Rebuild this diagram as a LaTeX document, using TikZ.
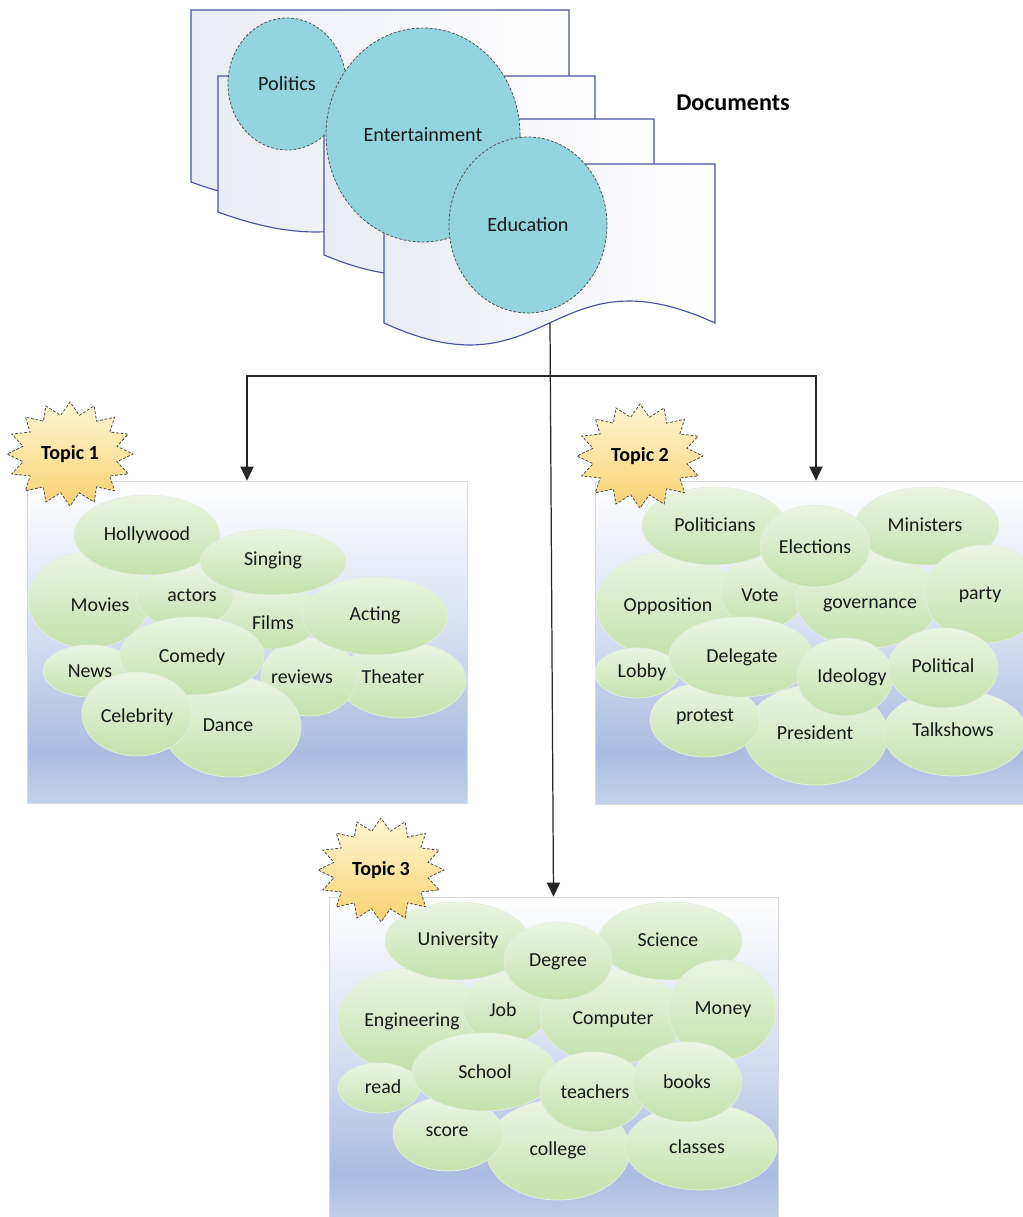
\documentclass[tikz,border=0pt]{standalone}
\usepackage{fontspec}
\setmainfont{Carlito}
\usetikzlibrary{arrows.meta,shapes.geometric}

\definecolor{docedge}{RGB}{72,84,160}
\definecolor{docleft}{RGB}{234,236,245}
\definecolor{circfill}{RGB}{146,212,223}
\definecolor{blobtop}{RGB}{236,245,228}
\definecolor{blobbot}{RGB}{196,226,172}
\definecolor{blobedge}{RGB}{230,238,224}
\definecolor{bgA}{RGB}{198,210,236}
\definecolor{bgB}{RGB}{170,188,224}
\definecolor{bgC}{RGB}{212,220,240}
\definecolor{burstTop}{RGB}{255,246,212}
\definecolor{burstBot}{RGB}{247,210,112}

% vertical background of the topic panels (bottom -> top)
\pgfdeclareverticalshading{topicbg}{100bp}{color(0bp)=(bgA); color(25bp)=(bgA); color(33bp)=(bgB); color(50bp)=(bgC); color(75bp)=(white); color(100bp)=(white)}

\tikzset{
  docpage/.style={draw=docedge, line width=0.65pt, left color=docleft, right color=white},
  topicbox/.style={rectangle, draw=gray!30, line width=0.4pt, shading=topicbg, inner sep=0pt},
  bubble/.style={ellipse, draw=gray!65!black, dash pattern=on 1.6pt off 1pt, line width=0.45pt,
    fill=circfill, inner sep=0pt, text=black!90, font=\fontsize{11.5}{13}\selectfont},
  blob/.style={ellipse, draw=blobedge, line width=0.4pt, top color=blobtop, bottom color=blobbot, inner sep=0pt},
  word/.style={inner sep=0pt, text=black!90, font=\fontsize{11.3}{13}\selectfont},
  burst/.style={draw=gray!60!black, dash pattern=on 1.6pt off 1pt, line width=0.45pt,
    top color=burstTop, bottom color=burstBot},
  topiclabel/.style={inner sep=0pt, text=black, font=\bfseries\fontsize{11.4}{13}\selectfont},
  flow/.style={draw=black!85, line width=0.7pt},
  arrowed/.style={flow, -{Triangle[width=7.5pt,length=8pt]}},
}

% a stacked document sheet: left, top, right, bottom, wave amplitude
\newcommand\docsheet[5]{%
  \draw[docpage] (#1,#4) -- (#1,#2) -- (#3,#2) -- (#3,#4)
    .. controls ({(#1+#3)/2},{#4-3.46*#5}) and ({(#1+#3)/2},{#4+3.46*#5}) .. (#1,#4) -- cycle;}

% a word bubble: name, cx, cy, rx, ry, text x, text y, text
\newcommand\wordblob[8]{%
  \node[blob, minimum width={2*#4*0.02cm}, minimum height={2*#5*0.02cm}] (#1) at (#2,#3) {};
  \node[word] (#1-t) at (#6,#7) {#8};}

% a starburst badge: name, cx, cy, label
\newcommand\topicburst[4]{%
  \draw[burst] plot[variable=\k, samples at={0,...,31}]
    ({#2+63*(1-0.24*mod(\k,2))*cos(\k*11.25+90)}, {#3+52*(1-0.24*mod(\k,2))*sin(\k*11.25+90)}) -- cycle;
  \node[topiclabel] (#1) at (#2,#3) {#4};}

\begin{document}
\begin{tikzpicture}[x=0.02cm, y=-0.02cm]
\useasboundingbox (0,0) rectangle (1023,1217);
\clip (0,0) rectangle (1023,1217);
\fill[white] (0,0) rectangle (1023,1217);

% ---- document stack ----
\docsheet{191}{10}{569}{182}{20}
\docsheet{218}{76}{595}{212}{20}
\docsheet{324}{119}{654}{255}{20}
\docsheet{384}{164}{715}{323}{22}

\node[bubble, minimum width={2*59*0.02cm}, minimum height={2*66*0.02cm}] (politics) at (287,84) {Politics};
\node[bubble, minimum width={2*97*0.02cm}, minimum height={2*107*0.02cm}] (entertain) at (423,135) {Entertainment};
\node[bubble, minimum width={2*79*0.02cm}, minimum height={2*88*0.02cm}] (education) at (528,225) {Education};

\node[inner sep=0pt, text=black, font=\bfseries\fontsize{13.7}{16}\selectfont] (docs) at (733,103) {Documents};

% ---- topic panels ----
\node[topicbox, minimum width={440*0.02cm}, minimum height={322*0.02cm}] (t1box) at (247,642) {};
\node[topicbox, minimum width={442*0.02cm}, minimum height={323*0.02cm}] (t2box) at (816,642.5) {};
\node[topicbox, minimum width={449*0.02cm}, minimum height={330*0.02cm}] (t3box) at (553.5,1062) {};

% topic 1 words
\wordblob{movies}{89}{600}{61}{48}{100}{605}{Movies}
\wordblob{theater}{402}{680}{64}{38}{393}{677}{Theater}
\wordblob{reviews}{309}{677}{48}{39}{302}{677}{reviews}
\wordblob{dance}{232}{727}{69}{50}{228}{725}{Dance}
\wordblob{news}{90}{671}{47}{26}{90}{671}{News}
\wordblob{films}{270}{616}{50}{33}{273}{623}{Films}
\wordblob{actors}{185}{597}{48}{31}{192}{595}{actors}
\wordblob{hollywood}{147}{535}{73}{40}{147}{535}{Hollywood}
\wordblob{singing}{273}{562}{73}{33}{273}{560}{Singing}
\wordblob{acting}{375}{616}{73}{39}{375}{615}{Acting}
\wordblob{comedy}{192}{656}{72}{39}{192}{657}{Comedy}
\wordblob{celebrity}{137}{714}{55}{42}{137}{717}{Celebrity}

% topic 2 words
\wordblob{opposition}{668}{605}{72}{53}{668}{606}{Opposition}
\wordblob{vote}{763}{592}{42}{37}{760}{595}{Vote}
\wordblob{governance}{868}{600}{72}{48}{870}{605}{governance}
\wordblob{politicians}{714}{526}{72}{39}{715}{525}{Politicians}
\wordblob{ministers}{927}{526}{72}{39}{925}{525}{Ministers}
\wordblob{party}{985}{594}{60}{49}{980}{595}{party}
\wordblob{elections}{815}{546}{55}{41}{815}{547}{Elections}
\wordblob{lobby}{637}{673}{42}{25}{642}{672}{Lobby}
\wordblob{president}{816}{735}{72}{50}{815}{733}{President}
\wordblob{talkshows}{955}{733}{72}{43}{953}{730}{Talkshows}
\wordblob{protest}{705}{720}{55}{37}{705}{717}{protest}
\wordblob{delegate}{741}{657}{72}{40}{742}{657}{Delegate}
\wordblob{ideology}{845}{677}{48}{39}{852}{677}{Ideology}
\wordblob{political}{943}{668}{55}{40}{943}{666}{Political}

% topic 3 words
\wordblob{engineering}{411}{1020}{73}{52}{412}{1021}{Engineering}
\wordblob{job}{506}{1008}{43}{35}{503}{1010}{Job}
\wordblob{computer}{612}{1017}{72}{47}{613}{1020}{Computer}
\wordblob{university}{457}{941}{72}{39}{458}{940}{University}
\wordblob{science}{670}{941}{72}{39}{668}{940}{Science}
\wordblob{money}{722}{1010}{54}{50}{723}{1010}{Money}
\wordblob{degree}{558}{961}{54}{39}{558}{962}{Degree}
\wordblob{read}{379}{1088}{41}{25}{383}{1087}{read}
\wordblob{college}{558}{1150}{72}{50}{558}{1150}{college}
\wordblob{classes}{701}{1147}{76}{43}{697}{1147}{classes}
\wordblob{score}{448}{1134}{55}{37}{447}{1132}{score}
\wordblob{school}{484}{1072}{72}{39}{485}{1072}{School}
\wordblob{teachers}{593}{1092}{53}{40}{595}{1092}{teachers}
\wordblob{books}{687}{1082}{55}{40}{687}{1082}{books}

% ---- topic badges ----
\topicburst{topic1}{70}{454}{Topic 1}
\topicburst{topic2}{640}{456}{Topic 2}
\topicburst{topic3}{381}{870}{Topic 3}

% ---- connectors ----
\coordinate (docfoot) at (550,323);
\coordinate (hub) at (550,376);
\draw[arrowed] (docfoot) -- (t3box.north);
\draw[arrowed] (hub) -| (t1box.north);
\draw[arrowed] (hub) -| (t2box.north);
\end{tikzpicture}
\end{document}
